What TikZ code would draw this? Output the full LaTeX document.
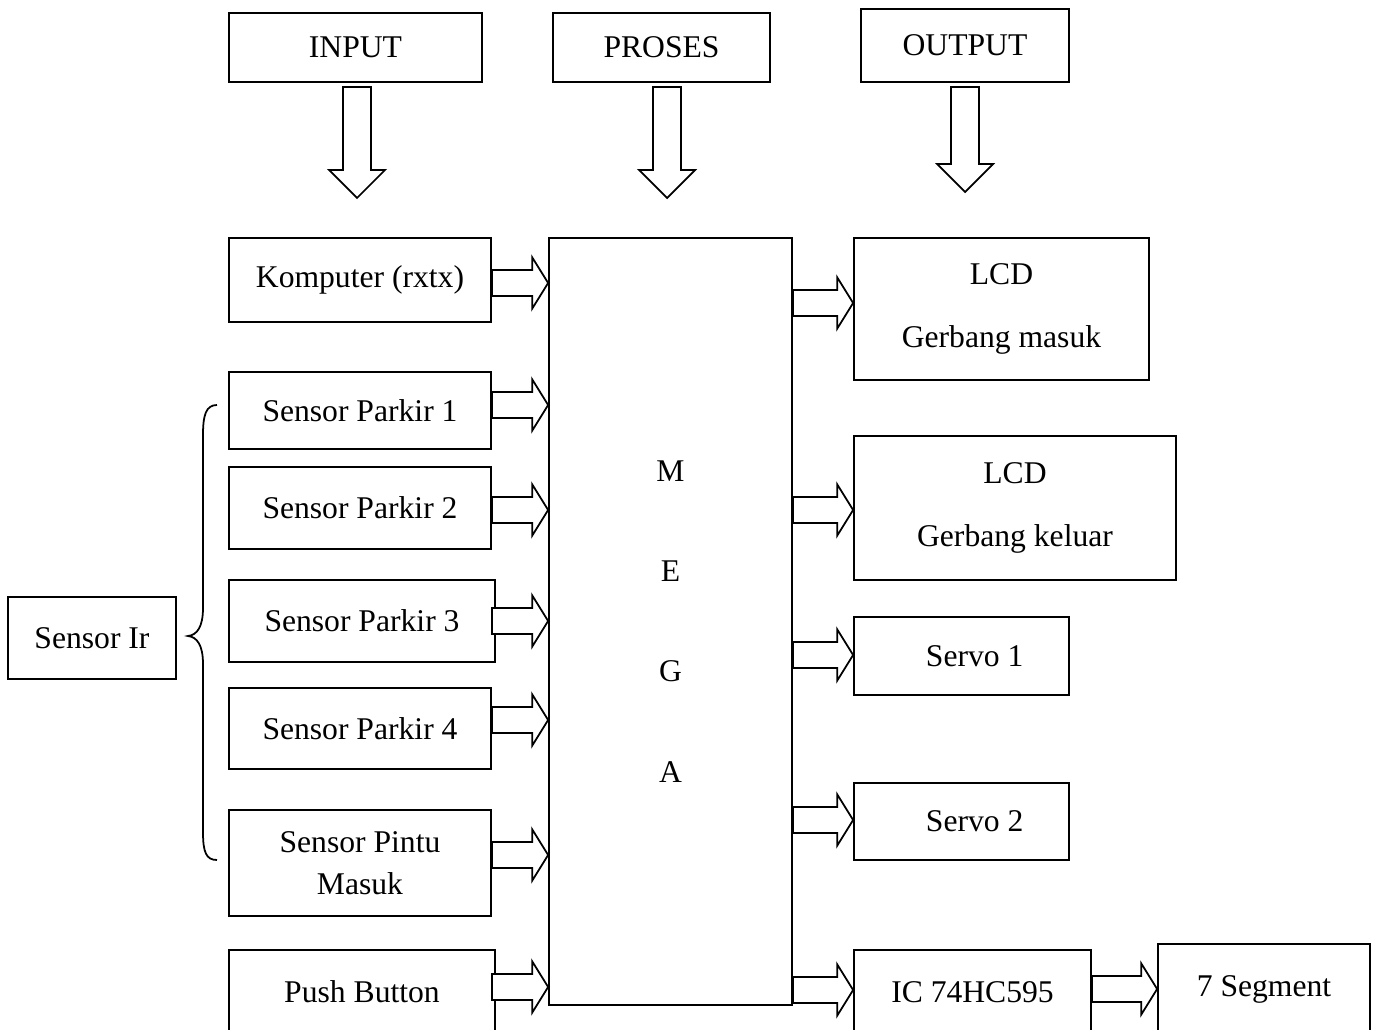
\documentclass[tikz,border=0pt]{standalone}
\usepackage{fontspec}
\setmainfont{Liberation Serif}
\usetikzlibrary{calc}
\tikzset{
  box/.style={draw, line width=1pt, inner sep=0pt, align=center, font=\fontsize{18}{22}\selectfont},
  blk/.style={draw, line width=1pt, fill=white, line join=miter},
  bracestyle/.style={draw, line width=1pt},
}
\newcommand\bx[6]{\node[box, minimum width={(#4-#2)*0.02cm}, minimum height={(#5-#3)*0.02cm}] (#1) at ({(#2+#4)/2},{(#3+#5)/2}) {#6};}
% horizontal hollow arrow: #1 start point, #2 point giving tip x
\newcommand\harrow[2]{\draw[blk] let \p1=#1, \p2=#2 in
  (\x1,\y1+7.4pt) -- (\x2-9pt,\y1+7.4pt) -- (\x2-9pt,\y1+14.5pt) -- (\x2,\y1) --
  (\x2-9pt,\y1-14.5pt) -- (\x2-9pt,\y1-7.4pt) -- (\x1,\y1-7.4pt) -- cycle;}
% vertical hollow arrow: #1 top point, #2 tip point
\newcommand\varrow[2]{\draw[blk] let \p1=#1, \p2=#2 in
  (\x1-8pt,\y1) -- (\x1-8pt,\y2+16pt) -- (\x1-16pt,\y2+16pt) -- (\x1,\y2) --
  (\x1+16pt,\y2+16pt) -- (\x1+8pt,\y2+16pt) -- (\x1+8pt,\y1) -- cycle;}
\begin{document}
\begin{tikzpicture}[x=0.02cm,y=-0.02cm]
\useasboundingbox[fill=white] (0,0) rectangle (1375,1030);

\bx{input}{229}{13}{482}{82}{INPUT}
\bx{proses}{553}{13}{770}{82}{PROSES}
\bx{output}{861}{9}{1069}{82}{OUTPUT}
\bx{komp}{229}{238}{491}{322}{Komputer (rxtx)}
\bx{mega}{549}{238}{792}{1005}{M\\[35pt]E\\[35pt]G\\[35pt]A}
\bx{spa}{229}{372}{491}{449}{Sensor Parkir 1}
\bx{spb}{229}{467}{491}{549}{Sensor Parkir 2}
\bx{spc}{229}{580}{495}{662}{Sensor Parkir 3}
\bx{spd}{229}{688}{491}{769}{Sensor Parkir 4}
\bx{spm}{229}{810}{491}{916}{Sensor Pintu\\[2pt]Masuk}
\bx{push}{229}{950}{495}{1034}{Push Button}
\bx{ir}{8}{597}{176}{679}{Sensor Ir}
\bx{lcda}{854}{238}{1149}{380}{LCD\\[14pt]Gerbang masuk}
\bx{lcdb}{854}{436}{1176}{580}{LCD\\[14pt]Gerbang keluar}
\bx{servoa}{854}{617}{1069}{695}{\hspace*{15pt}Servo 1}
\bx{servob}{854}{783}{1069}{860}{\hspace*{15pt}Servo 2}
\bx{ic}{854}{950}{1091}{1034}{IC 74HC595}
\bx{seg}{1158}{944}{1370}{1034}{7 Segment}

% down arrows
\coordinate (ia) at (357,87);  \coordinate (ib) at (357,198);
\coordinate (pa) at (667,87);  \coordinate (pb) at (667,198);
\coordinate (oa) at (965,87);  \coordinate (ob) at (965,192);
\varrow{(ia)}{(ib)}
\varrow{(pa)}{(pb)}
\varrow{(oa)}{(ob)}

% input arrows
\harrow{(komp.east |- 0,283)}{(mega.west)}
\harrow{(spa.east |- 0,405)}{(mega.west)}
\harrow{(spb.east |- 0,510)}{(mega.west)}
\harrow{($(spc.east)+(-4,0)$)}{(mega.west)}
\harrow{(spd.east |- 0,720)}{(mega.west)}
\harrow{(spm.east |- 0,855)}{(mega.west)}
\harrow{($(push.east |- 0,987)+(-4,0)$)}{(mega.west)}

% output arrows
\harrow{(mega.east |- 0,303)}{(lcda.west)}
\harrow{(mega.east |- 0,510)}{(lcdb.west)}
\harrow{(mega.east |- 0,655)}{(servoa.west)}
\harrow{(mega.east |- 0,820)}{(servob.west)}
\harrow{(mega.east |- 0,990)}{(ic.west)}
\harrow{(ic.east |- 0,989)}{(seg.west)}

% brace
\draw[bracestyle] (217,405) .. controls (206,405) and (203,415) .. (203,435) -- (203,608)
  .. controls (203,627) and (197,635) .. (188,636)
  .. controls (197,637) and (203,645) .. (203,664) -- (203,832)
  .. controls (203,852) and (206,860) .. (217,860);
\end{tikzpicture}
\end{document}
